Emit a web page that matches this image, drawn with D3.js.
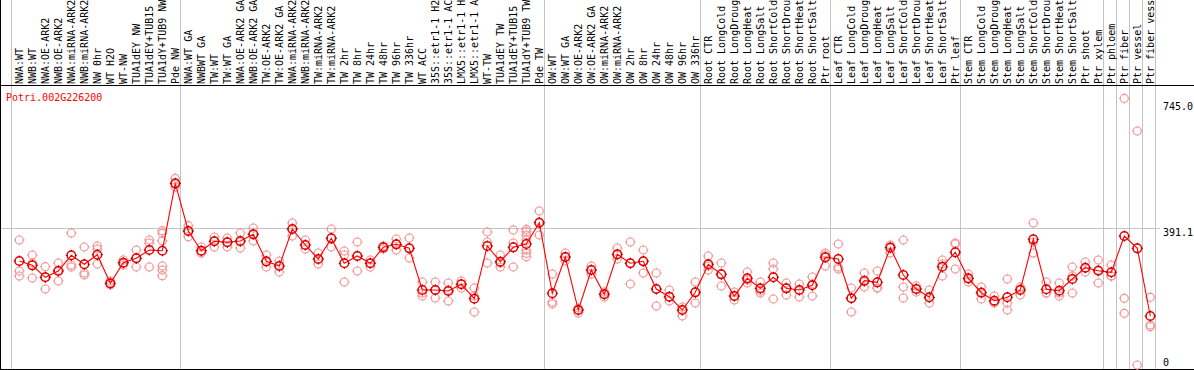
<!DOCTYPE html>
<html>
<head>
<meta charset="utf-8">
<script src="https://cdn.jsdelivr.net/npm/d3@7"></script>
<style>
  html, body { margin: 0; padding: 0; background: #fff; }
  svg { display: block; }
  text { font-family: "DejaVu Sans Mono", monospace; font-size: 10px; }
</style>
</head>
<body>
<svg id="chart" width="1194" height="370"></svg>
<script>
const title = "Potri.002G226200";

const categories = [
  "NWA:WT","NWB:WT","NWA:OE-ARK2","NWB:OE-ARK2","NWA:miRNA-ARK2","NWB:miRNA-ARK2","NW 0hr","WT H2O","WT-NW",
  "TUA1dEY NW","TUA1dEY+TUB15","TUA1dY+TUB9 NW","Pde NW",
  "NWA:WT GA","NWBWT GA","TW:WT","TW:WT GA","NWA:OE-ARK2 GA","NWB:OE-ARK2 GA","TW:OE-ARK2","TW:OE-ARK2 GA",
  "NWA:miRNA-ARK2","NWB:miRNA-ARK2","TW:miRNA-ARK2","TW:miRNA-ARK2","TW 2hr","TW 8hr","TW 24hr","TW 48hr",
  "TW 96hr","TW 336hr","WT ACC","35S::etr1-1 H2","35S::etr1-1 AC","LMX5::etr1-1 H","LMX5::etr1-1 A","WT-TW",
  "TUA1dEY TW","TUA1dEY+TUB15","TUA1dY+TUB9 TW","Pde TW",
  "OW:WT","OW:WT GA","OW:OE-ARK2","OW:OE-ARK2 GA","OW:miRNA-ARK2","OW:miRNA-ARK2","OW 2hr","OW 8hr","OW 24hr",
  "OW 48hr","OW 96hr","OW 336hr",
  "Root CTR","Root LongCold","Root LongDroug","Root LongHeat","Root LongSalt","Root ShortCold","Root ShortDrou",
  "Root ShortHeat","Root ShortSalt","Ptr root",
  "Leaf CTR","Leaf LongCold","Leaf LongDroug","Leaf LongHeat","Leaf LongSalt","Leaf ShortCold","Leaf ShortDrou",
  "Leaf ShortHeat","Leaf ShortSalt","Ptr leaf",
  "Stem CTR","Stem LongCold","Stem LongDroug","Stem LongHeat","Stem LongSalt","Stem ShortCold","Stem ShortDrou",
  "Stem ShortHeat","Stem ShortSalt","Ptr shoot","Ptr xylem",
  "Ptr phloem","Ptr fiber","Ptr vessel","Ptr fiber vess"
];

// index of the first category of each group (last entry = end)
const groupStarts = [0, 13, 41, 53, 63, 73, 84, 85, 86, 87, 88];

const means = [
  302.2, 290.5, 257.9, 275.0, 317.8, 293.3, 319.4, 241.5, 297.6, 309.6, 332.2, 330.3, 513.8,
  383.9, 330.3, 355.9, 353.2, 356.7, 374.9, 301.4, 288.6, 389.4, 345.8, 307.7, 364.0, 296.0, 315.9,
  296.0, 339.5, 347.7, 336.8, 223.3, 223.3, 220.6, 238.8, 199.6, 343.1, 300.3, 339.5, 348.5, 406.5,
  214.3, 313.1, 168.8, 277.7, 211.6, 320.5, 296.0, 301.4, 226.0, 205.0, 168.8, 217.0,
  293.3, 266.0, 206.9, 255.1, 227.9, 257.9, 227.9, 223.3, 236.1, 312.3,
  307.7, 200.7, 248.6, 244.2, 338.5, 264.1, 226.0, 203.4, 286.7, 325.9,
  255.1, 215.9, 194.1, 203.4, 223.3, 361.3, 225.2, 221.4, 253.2, 284.0, 275.8,
  271.5, 370.3, 336.8, 152.5
];

const replicates = [
  [359.4, 275.0, 261.4], [318.6, 296.8, 256.0], [286.7, 258.7, 226.0], [296.8, 277.7, 247.8],
  [378.5, 291.4, 285.9], [340.4, 269.6, 264.1], [343.1, 334.9, 294.1], [247.8, 239.6, 236.9],
  [305.0, 296.8, 291.4], [332.2, 310.4, 285.9], [359.4, 351.3, 285.9],
  [384.7, 377.7, 357.5, 288.6, 277.7, 262.2], [527.4, 511.9, 503.7],
  [398.4, 383.9, 368.4], [340.4, 329.5, 324.0], [367.6, 356.7, 340.4], [364.9, 354.0, 340.4],
  [378.5, 354.0, 337.6], [392.1, 375.8, 356.7], [318.6, 299.5, 285.9], [302.2, 288.6, 272.3],
  [405.7, 389.4, 370.3], [359.4, 345.8, 334.9], [324.0, 307.7, 294.1], [389.4, 364.9, 340.4],
  [329.5, 318.6, 245.1], [354.0, 315.9, 275.0], [305.0, 296.8, 285.9], [343.1, 340.4, 334.9],
  [362.1, 348.5, 332.2], [364.9, 337.6, 310.4], [245.1, 215.1, 206.9], [245.1, 223.3, 201.5],
  [242.3, 223.3, 193.3], [247.8, 239.6, 228.7], [228.7, 206.9, 163.4], [381.2, 354.0, 296.8],
  [318.6, 296.8, 285.9], [386.7, 351.3, 285.9],
  [388.6, 382.0, 373.0, 359.4, 332.2, 323.2, 313.9], [438.4, 408.4, 373.0],
  [266.8, 190.6, 185.2], [324.0, 313.1, 302.2], [174.3, 168.8, 160.7], [288.6, 277.7, 266.8],
  [217.8, 212.4, 204.2], [337.6, 318.6, 307.7], [354.0, 296.8, 239.6], [332.2, 302.2, 269.6],
  [269.6, 226.0, 179.7], [223.3, 204.2, 193.3], [177.0, 168.8, 152.5], [245.1, 217.8, 187.9],
  [315.9, 288.6, 277.7], [296.8, 266.8, 234.2], [217.8, 206.9, 196.1], [272.3, 250.5, 242.3],
  [245.1, 220.6, 215.1], [296.8, 280.5, 198.8], [242.3, 228.7, 209.7], [239.6, 223.3, 204.2],
  [258.7, 239.6, 206.9], [324.0, 318.6, 288.6],
  [348.5, 285.9, 280.5], [228.7, 201.5, 163.4], [269.6, 245.1, 231.4], [275.0, 228.7, 228.7],
  [345.8, 343.1, 324.0], [359.4, 231.4, 201.5], [234.2, 226.0, 217.8], [223.3, 201.5, 187.9],
  [305.0, 294.1, 261.4], [351.3, 348.5, 280.5],
  [266.8, 253.2, 245.1], [231.4, 217.8, 198.8], [206.9, 190.6, 187.9], [253.2, 187.9, 168.8],
  [231.4, 226.0, 209.7], [405.7, 354.0, 324.0], [245.1, 215.1, 215.1], [242.3, 215.1, 206.9],
  [285.9, 261.4, 215.1], [299.5, 283.2, 272.3], [305.0, 277.7, 242.3],
  [291.4, 261.4, 261.4], [745.0, 200.7, 159.8], [656.2, 19.1], [203.4, 128.0, 123.3]
];

const yTickValues = [745.0, 391.1, 0];
const yGridValues = [391.1];

// ---------- drawing ----------
const W = 1194, H = 370;
const svg = d3.select("#chart");

const x = d3.scaleBand().domain(d3.range(categories.length)).range([12.8, 1156.8]).paddingInner(0).paddingOuter(0);
const cx = i => x(0) + x.step() * i + x.bandwidth() / 2;
const y = d3.scaleLinear().domain([0, 745]).range([372, 98.4]);

const plotTop = 85.5, plotBottom = 369.5;

// vertical group separators
svg.append("g").selectAll("line").data(groupStarts).join("line")
  .attr("x1", d => Math.round(cx(d) - 8) + 0.5).attr("x2", d => Math.round(cx(d) - 8) + 0.5)
  .attr("y1", 0).attr("y2", plotBottom)
  .attr("stroke", "#c4c4c4").attr("stroke-width", 1).attr("shape-rendering", "crispEdges");

// horizontal grid
svg.append("g").selectAll("line").data(yGridValues).join("line")
  .attr("x1", 0).attr("x2", 1160)
  .attr("y1", d => Math.round(y(d)) + 0.5).attr("y2", d => Math.round(y(d)) + 0.5)
  .attr("stroke", "#c4c4c4").attr("stroke-width", 1).attr("shape-rendering", "crispEdges");

// frame lines
svg.append("line").attr("x1", 0).attr("x2", W).attr("y1", plotTop).attr("y2", plotTop)
  .attr("stroke", "#000").attr("shape-rendering", "crispEdges");
svg.append("line").attr("x1", 0).attr("x2", W).attr("y1", plotBottom).attr("y2", plotBottom)
  .attr("stroke", "#000").attr("shape-rendering", "crispEdges");
svg.append("line").attr("x1", 0.5).attr("x2", 0.5).attr("y1", 0).attr("y2", H)
  .attr("stroke", "#000").attr("shape-rendering", "crispEdges");

// category labels (rotated)
svg.append("g").selectAll("text").data(categories).join("text")
  .attr("transform", (d, i) => `translate(${cx(i) + 4},84) rotate(-90)`)
  .attr("text-anchor", "start")
  .attr("fill", "#000")
  .text(d => d);

// title
svg.append("text").attr("x", 6).attr("y", 97).attr("dominant-baseline", "central")
  .attr("fill", "#ff0000").text(title);

// right value labels
const labelOffsets = [8.3, 3.8, -10];
svg.append("g").selectAll("text").data(yTickValues).join("text")
  .attr("x", 1163).attr("y", (d, i) => y(d) + labelOffsets[i])
  .attr("dominant-baseline", "central").attr("fill", "#000")
  .text(d => d === 0 ? "0" : d.toFixed(1));

// marker with small cross ticks
function marker(g, px, py, r, color, sw, tickColor) {
  g.append("circle").attr("cx", px).attr("cy", py).attr("r", r)
    .attr("fill", "none").attr("stroke", color).attr("stroke-width", sw);
  const t = [[0, -1], [0, 1], [-1, 0], [1, 0]];
  t.forEach(([dx, dy]) => {
    g.append("line")
      .attr("x1", px + dx * (r - 0.5)).attr("y1", py + dy * (r - 0.5))
      .attr("x2", px + dx * (r + 1.3)).attr("y2", py + dy * (r + 1.3))
      .attr("stroke", tickColor).attr("stroke-width", 1);
  });
}

// replicates
const gRep = svg.append("g");
replicates.forEach((reps, i) => {
  reps.forEach(v => marker(gRep, cx(i), y(v), 4, "#f29a9a", 1.2, "#f29a9a"));
});

// mean line
const line = d3.line().x((d, i) => cx(i)).y(d => y(d));
svg.append("path").datum(means).attr("d", line)
  .attr("fill", "none").attr("stroke", "#ff0000").attr("stroke-width", 1.1);

// means
const gMean = svg.append("g");
means.forEach((v, i) => marker(gMean, cx(i), y(v), 4.3, "#f00000", 1.5, "#900000"));
</script>
</body>
</html>
